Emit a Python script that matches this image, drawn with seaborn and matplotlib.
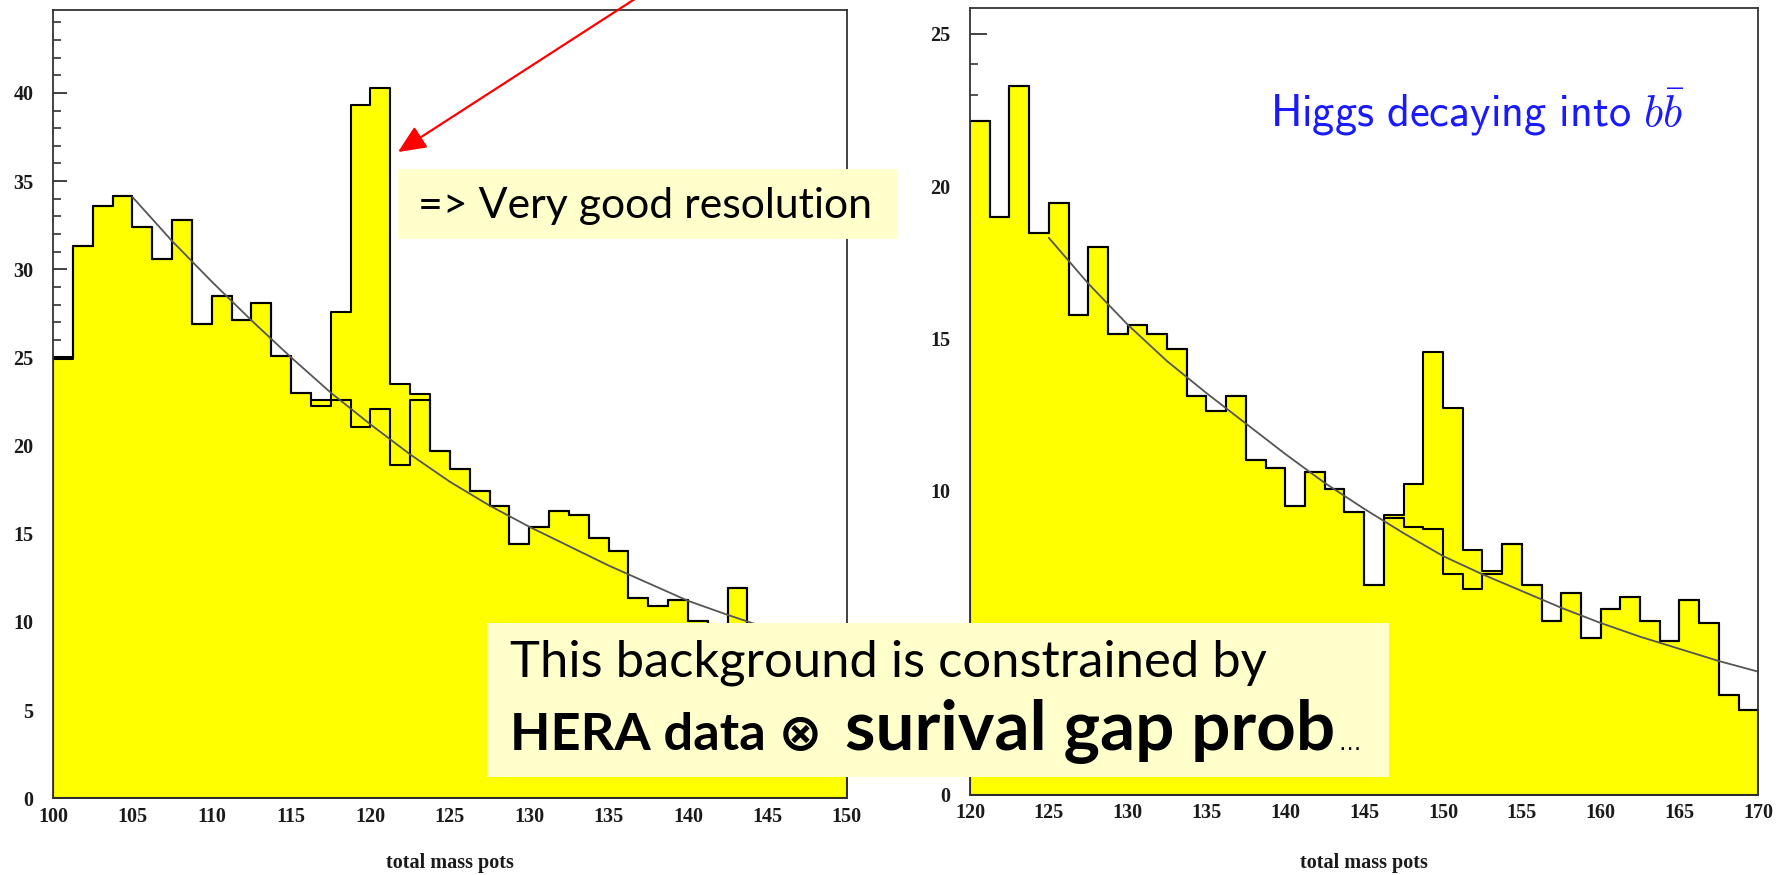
import numpy as np
import pandas as pd
import matplotlib
matplotlib.use("Agg")
import matplotlib.pyplot as plt
from matplotlib.patches import Rectangle, FancyArrowPatch
from matplotlib.ticker import MultipleLocator
import seaborn as sns

# ---------------- data ----------------
left_range = (100.0, 150.0)
right_range = (120.0, 170.0)
n_bins = 40

# signal + background (yellow filled histogram), left panel
left_sig = [25.0, 31.3, 33.6, 34.15, 32.4, 30.6, 32.8, 26.9, 28.5, 27.1,
            28.1, 25.1, 23.0, 22.6, 27.6, 39.3, 40.3, 23.5, 22.9, 19.7,
            18.7, 17.45, 16.55, 14.4, 15.4, 16.3, 16.05, 14.75, 14.0, 11.35,
            10.9, 11.25, 10.05, 9.8, 11.95, 9.6, 9.3, 8.6, 9.0, 8.2]
# background only (outline histogram), left panel
left_bkg = [24.9, 31.3, 33.6, 34.15, 32.4, 30.6, 32.8, 26.9, 28.5, 27.1,
            28.1, 25.1, 23.0, 22.25, 22.6, 21.05, 22.05, 18.9, 22.6, 19.7,
            18.7, 17.45, 16.55, 14.4, 15.4, 16.3, 16.05, 14.75, 14.0, 11.35,
            10.9, 11.25, 10.05, 9.8, 11.95, 9.6, 9.3, 8.6, 9.0, 8.2]

right_sig = [22.15, 19.0, 23.3, 18.45, 19.45, 15.75, 18.0, 15.15, 15.45, 15.15,
             14.65, 13.1, 12.6, 13.1, 11.0, 10.75, 9.5, 10.6, 10.05, 9.3,
             6.9, 9.2, 10.2, 14.55, 12.7, 8.05, 7.35, 8.25, 6.9, 5.7,
             6.65, 5.15, 6.1, 6.5, 5.7, 5.05, 6.4, 5.65, 3.3, 2.8]
right_bkg = [22.15, 19.0, 23.3, 18.45, 19.45, 15.75, 18.0, 15.15, 15.45, 15.15,
             14.65, 13.1, 12.6, 13.1, 11.0, 10.75, 9.5, 10.6, 10.05, 9.3,
             6.9, 9.1, 8.8, 8.75, 7.25, 6.75, 7.25, 8.25, 6.9, 5.7,
             6.65, 5.15, 6.1, 6.5, 5.7, 5.05, 6.4, 5.65, 3.3, 2.8]

# background fit curves
left_fit_x = [105, 107.5, 110, 112.5, 115, 117.5, 120, 122.5, 125, 127.5,
              130, 132.5, 135, 137.5, 140, 142.5, 144.5]
left_fit_y = [34.1, 31.6, 29.3, 27.1, 25.0, 23.0, 21.2, 19.5, 17.95, 16.6,
              15.4, 14.3, 13.2, 12.2, 11.2, 10.4, 9.8]
right_fit_x = [125, 127.5, 130, 132.5, 135, 137.5, 140, 142.5, 145, 147.5,
               150, 152.5, 155, 157.5, 160, 162.5, 165, 167.5, 170]
right_fit_y = [18.3, 16.8, 15.45, 14.25, 13.2, 12.2, 11.2, 10.25, 9.4, 8.6,
               7.85, 7.25, 6.7, 6.15, 5.65, 5.2, 4.8, 4.4, 4.05]

left_xticks = [100, 105, 110, 115, 120, 125, 130, 135, 140, 145, 150]
right_xticks = [120, 125, 130, 135, 140, 145, 150, 155, 160, 165, 170]
left_yticks = [0, 5, 10, 15, 20, 25, 30, 35, 40]
left_ylabels = ["0", "5", "10", "15", "20", "25", "30", "35", "40"]
right_yticks = [0, 5, 10, 15, 20, 25]
right_ylabels = ["0", "", "10", "15", "20", "25"]   # "5" is hidden by the note box

x_label = "total mass pots"
note_small = "=> Very good resolution"
note_line1 = "This background is constrained by"
note_line2a = "HERA data \u2297"
note_line2b = "surival gap prob"
note_line2c = "\u2026"
higgs_label = r"$\mathsf{Higgs\ decaying\ into}\ b\bar{b}$"

# ---------------- figure ----------------
sns.set_style("white")
plt.rcParams["mathtext.fontset"] = "cm"
plt.rcParams["font.family"] = ["DejaVu Sans"]

W, H = 1782, 875
fig = plt.figure(figsize=(W / 100, H / 100), dpi=100)
fig.patch.set_facecolor("white")

ax_l = fig.add_axes([53 / W, 1 - 798.3 / H, (846.7 - 53) / W, (798.3 - 10) / H])
ax_r = fig.add_axes([970 / W, 1 - 795 / H, (1758.3 - 970) / W, (795 - 8.3) / H])

TICKFONT = dict(fontfamily="Liberation Serif", fontweight="bold", fontsize=14.5, color="#1a1a1a")


def draw_panel(ax, rng, sig, bkg, fx, fy, ymax, xticks, yticks, ylabels,
               major_len, label_y):
    width = (rng[1] - rng[0]) / n_bins
    centers = rng[0] + width * (np.arange(n_bins) + 0.5)
    df = pd.DataFrame({"mass": centers, "sig": sig, "bkg": bkg})
    sns.histplot(data=df, x="mass", weights="sig", bins=n_bins, binrange=rng,
                 element="step", fill=True, color="#FFFF00", alpha=1,
                 edgecolor="black", linewidth=1.5, ax=ax)
    sns.histplot(data=df, x="mass", weights="bkg", bins=n_bins, binrange=rng,
                 element="step", fill=False, color="black", linewidth=1.5, ax=ax)
    sns.lineplot(x=fx, y=fy, color="#555555", linewidth=1.3, estimator=None,
                 sort=False, ax=ax)
    ax.set_xlim(*rng)
    ax.set_ylim(0, ymax)
    ax.set_axisbelow(True)
    ax.set_facecolor("white")
    ax.set_xticks(xticks, labels=[str(v) for v in xticks], **TICKFONT)
    ax.set_yticks(yticks, labels=ylabels, **TICKFONT)
    ax.yaxis.set_minor_locator(MultipleLocator(1))
    ax.tick_params(axis="y", which="major", direction="in", length=major_len,
                   width=1.2, color="#222222", pad=14, left=True)
    ax.tick_params(axis="y", which="minor", direction="in", length=6,
                   width=1.1, color="#222222", left=True)
    ax.tick_params(axis="x", which="both", length=0, pad=6)
    ax.set_ylabel("")
    ax.set_xlabel(x_label, fontfamily="Liberation Serif", fontweight="bold",
                  fontsize=14.5, color="#1a1a1a", va="center")
    ax.xaxis.set_label_coords(0.5, label_y)
    for sp in ax.spines.values():
        sp.set_visible(True)
        sp.set_linewidth(1.3)
        sp.set_color("#333333")
    ax.grid(False)


draw_panel(ax_l, left_range, left_sig, left_bkg, left_fit_x, left_fit_y,
           44.7, left_xticks, left_yticks, left_ylabels, 10,
           -(863 - 798.3) / (798.3 - 10))
draw_panel(ax_r, right_range, right_sig, right_bkg, right_fit_x, right_fit_y,
           25.84, right_xticks, right_yticks, right_ylabels, 12,
           -(863 - 795) / (795 - 8.3))

renderer = fig.canvas.get_renderer()


def fitted_text(s, x0, x1, ybase, base=20, **kw):
    t = fig.text(x0 / W, 1 - ybase / H, s, ha="left", va="baseline",
                 fontsize=base, zorder=10, **kw)
    w = t.get_window_extent(renderer).width
    t.set_fontsize(base * (x1 - x0) / w)
    return t


# Higgs label (blue, top right)
fitted_text(higgs_label, 1270, 1685, 126.7, color="#1a1aff")

# small note box
fig.add_artist(Rectangle((398 / W, 1 - 239 / H), (897 - 398) / W, 70 / H,
                         transform=fig.transFigure, facecolor="#FFFFCC",
                         edgecolor="none", zorder=8))
fitted_text(note_small, 418, 873, 218, color="black",
            family=["Lato", "DejaVu Sans"])

# big note box
fig.add_artist(Rectangle((487.3 / W, 1 - 776.7 / H), (1389.3 - 487.3) / W,
                         (776.7 - 623.3) / H, transform=fig.transFigure,
                         facecolor="#FFFFCC", edgecolor="none", zorder=8))
fitted_text(note_line1, 510, 1268, 676.7, color="black",
            family=["Lato", "DejaVu Sans"])
fitted_text(note_line2a, 510, 822, 750, color="black", fontweight="bold",
            family=["Lato", "DejaVu Sans"])
fitted_text(note_line2b, 845, 1335, 750, color="black", fontweight="bold",
            family=["Lato", "DejaVu Sans"])
fig.text(1338 / W, 1 - 750 / H, note_line2c, ha="left", va="baseline",
         fontsize=16, color="black", zorder=10)

# red arrow coming from above the figure
fig.add_artist(FancyArrowPatch((703 / W, 1 + 45 / H), (398 / W, 1 - 152 / H),
                               transform=fig.transFigure,
                               arrowstyle="-|>,head_length=0.85,head_width=0.38",
                               mutation_scale=20, color="#ff0000", lw=1.6,
                               shrinkA=0, shrinkB=0, zorder=9))

fig.savefig("out.png", dpi=100, facecolor="white")
